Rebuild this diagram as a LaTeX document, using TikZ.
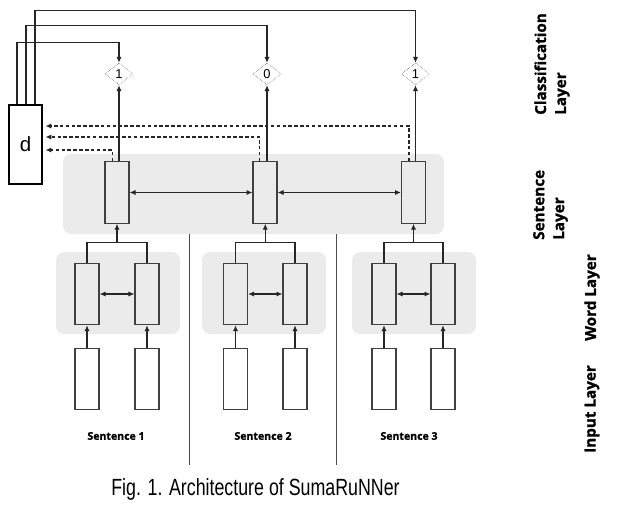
\documentclass[tikz,border=0pt]{standalone}
\usepackage{fontspec}
\setmainfont{Liberation Sans}
\newfontfamily\labelfont[BoldFeatures={FakeBold=1.2}]{Open Sans}
\usetikzlibrary{calc,shapes.geometric,arrows.meta}

\tikzset{
  band/.style={fill=black!8, rounded corners=7pt},
  cell/.style={rectangle, draw=black!75, line width=1.1pt, minimum width=0.72cm, minimum height=1.84cm, inner sep=0pt},
  tag/.style={diamond, draw=black!80, densely dotted, thin, minimum width=0.84cm, minimum height=0.66cm, inner sep=0pt, font=\fontsize{11}{11}\selectfont},
  doc/.style={rectangle, draw=black, line width=0.9pt, fill=white, minimum width=0.99cm, minimum height=2.37cm, inner sep=0pt, font=\fontsize{17.5}{18}\selectfont},
  conn/.style={draw=black!85, line width=0.9pt},
  fb/.style={conn, dash pattern=on 3pt off 2pt},
  sep/.style={draw=black!70, line width=0.6pt},
  sent/.style={font=\labelfont\bfseries\fontsize{9}{10}\selectfont, inner sep=0pt},
  layer/.style={rotate=90, align=left, inner sep=0pt, font=\labelfont\bfseries\fontsize{13}{17}\selectfont}
}

\begin{document}
\begin{tikzpicture}[x=0.03cm, y=-0.03cm, >={Latex[length=5pt,width=4.5pt]}]
\useasboundingbox (0,0) rectangle (619,508);

% grey layers
\fill[band] (63,154) rectangle (444,234);
\fill[band] (56,252) rectangle (180,334);
\fill[band] (202,252) rectangle (326,334);
\fill[band] (352,252) rectangle (476,334);

\draw[sep] (189,234) -- (189,465);
\draw[sep] (336,234) -- (336,465);

% sentence layer
\node[cell] (s1) at (117,192.5) {};
\node[cell] (s2) at (265,192.5) {};
\node[cell] (s3) at (413.5,192.5) {};

% word layer
\node[cell] (w11) at (87,294) {};
\node[cell] (w12) at (147,294) {};
\node[cell] (w21) at (235.5,294) {};
\node[cell] (w22) at (295,294) {};
\node[cell] (w31) at (384,294) {};
\node[cell] (w32) at (443,294) {};

% input layer
\node[cell, fill=white] (x11) at (87,379) {};
\node[cell, fill=white] (x12) at (147,379) {};
\node[cell, fill=white] (x21) at (235.5,379) {};
\node[cell, fill=white] (x22) at (295,379) {};
\node[cell, fill=white] (x31) at (384,379) {};
\node[cell, fill=white] (x32) at (443,379) {};

% classification layer
\node[tag] (c1) at (119,74) {1};
\node[tag] (c2) at (267,74) {0};
\node[tag] (c3) at (415.5,74) {1};

\node[doc] (d) at (25.5,144.5) {d};

\coordinate (m1) at ($(w11.north)!0.5!(w12.north)+(0,-20)$);
\coordinate (m2) at ($(w21.north)!0.5!(w22.north)+(0,-20)$);
\coordinate (m3) at ($(w31.north)!0.5!(w32.north)+(0,-20)$);

\coordinate (f1) at ($(d.east)+(3,5.5)$);
\coordinate (f2) at ($(d.east)+(3,-7.5)$);
\coordinate (f3) at ($(d.east)+(3,-18.5)$);

\draw[conn, ->] (x11) -- (w11);
\draw[conn, ->] (x12) -- (w12);
\draw[conn, ->] (x21) -- (w21);
\draw[conn, ->] (x22) -- (w22);
\draw[conn, ->] (x31) -- (w31);
\draw[conn, ->] (x32) -- (w32);

\draw[conn, <->] (w11) -- (w12);
\draw[conn, <->] (w21) -- (w22);
\draw[conn, <->] (w31) -- (w32);

\draw[conn] (w11.north) |- (m1) -| (w12.north);
\draw[conn] (w21.north) |- (m2) -| (w22.north);
\draw[conn] (w31.north) |- (m3) -| (w32.north);
\draw[conn, ->] (m1) -- (m1 |- s1.south);
\draw[conn, ->] (m2) -- (m2 |- s2.south);
\draw[conn, ->] (m3) -- (m3 |- s3.south);

\draw[conn, <->] (s1) -- (s2);
\draw[conn, <->] (s2) -- (s3);

\draw[conn, ->] ($(s1.north)+(2,0)$) -- (c1);
\draw[conn, ->] ($(s2.north)+(2,0)$) -- (c2);
\draw[conn, ->] ($(s3.north)+(2,0)$) -- (c3);

\draw[fb, ->] ($(s1.north)+(-4.5,0)$) |- (f1);
\draw[fb, ->] ($(s2.north)+(-5.5,0)$) |- (f2);
\draw[fb, ->] ($(s3.north)+(-4.5,0)$) |- (f3);

\draw[conn, ->] ($(d.north)+(-8.5,0)$) |- ($(c1.north)+(0,-20)$) -- (c1.north);
\draw[conn, ->] ($(d.north)+(0.5,0)$) |- ($(c2.north)+(0,-37)$) -- (c2.north);
\draw[conn, ->] ($(d.north)+(9.5,0)$) |- ($(c3.north)+(0,-52)$) -- (c3.north);

% labels
\node[sent] (n1) at (116,436) {Sentence 1};
\node[sent] (n2) at (263,436) {Sentence 2};
\node[sent] (n3) at (409,436) {Sentence 3};

\node[layer, anchor=west] (lc) at (552,115) {Classification\\Layer};
\node[layer, anchor=west] (ls) at (550.5,240) {Sentence\\Layer};
\node[layer] (lw) at (592,297.5) {Word Layer};
\node[layer] (li) at (592,409) {Input Layer};

\node (cap) at (255.5,489) {\scalebox{0.76}[1]{\fontsize{20}{22}\selectfont Fig. 1. Architecture of SumaRuNNer}};
\end{tikzpicture}
\end{document}
